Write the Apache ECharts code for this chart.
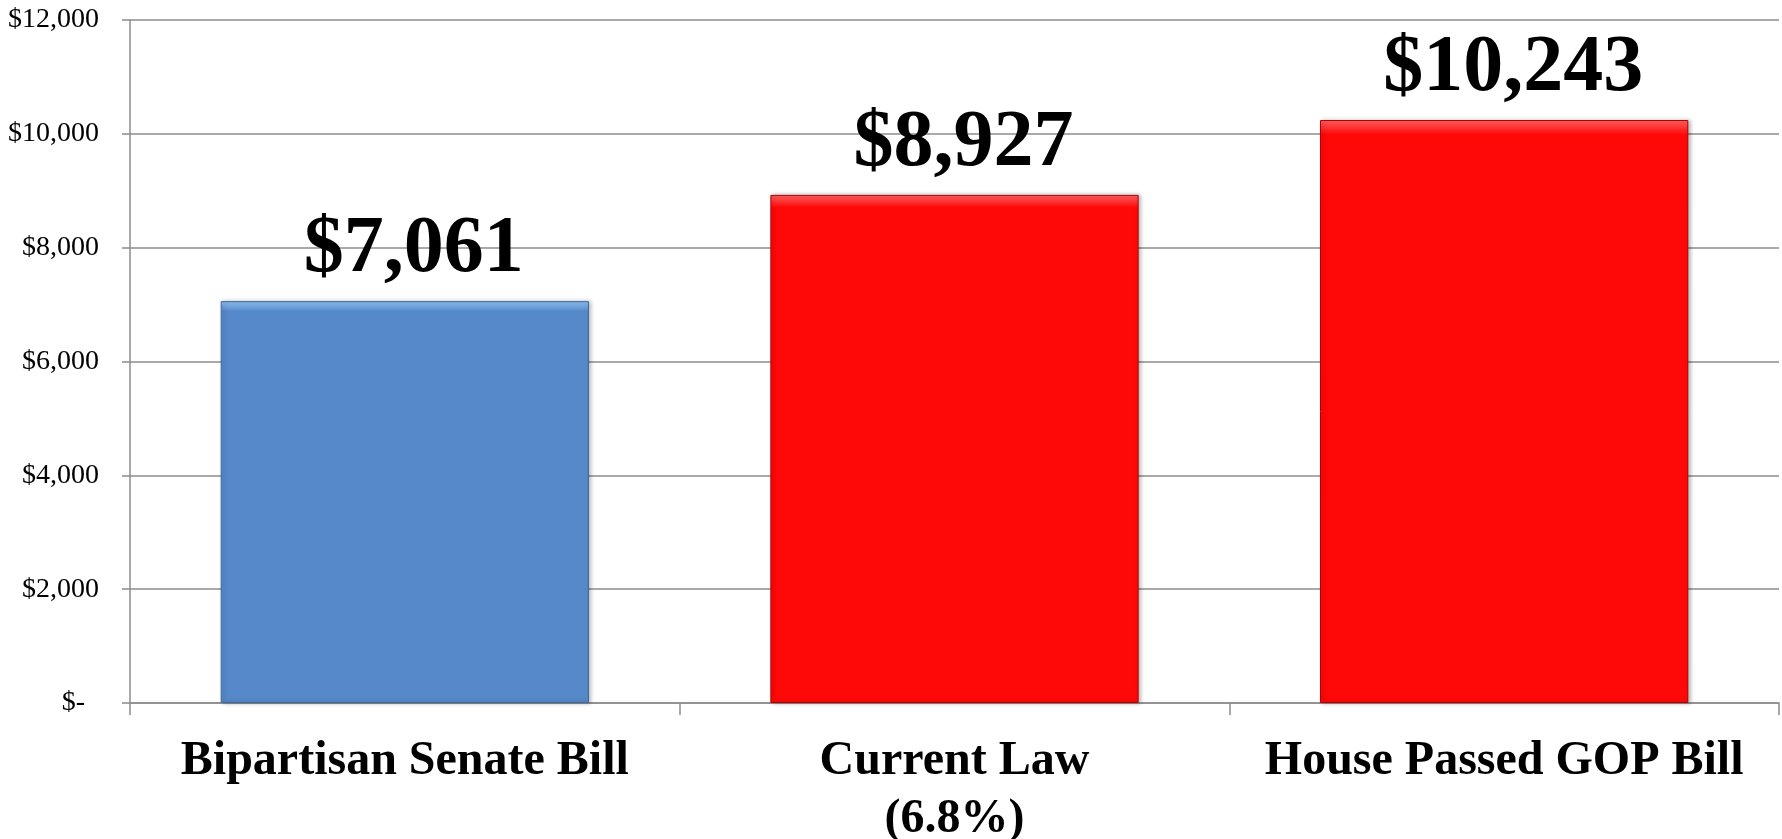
<!DOCTYPE html>
<html>
<head>
<meta charset="utf-8">
<script src="https://cdn.jsdelivr.net/npm/echarts@6/dist/echarts.min.js"></script>
<style>
  html, body { margin: 0; padding: 0; background: #fff; }
  #chart { width: 1782px; height: 839px; }
</style>
</head>
<body>
<div id="chart"></div>
<script>
const categories = ['Bipartisan Senate Bill', 'Current Law\n(6.8%)', 'House Passed GOP Bill']
const values = [7061, 8927, 10243]
const barColors = ['#5689c9', '#ff0808', '#ff0808']
const borderColors = ['#3d6aa3', '#b30000', '#b30000']

const chart = echarts.init(document.getElementById('chart'))

const fmt = v => '$' + v.toLocaleString('en-US')

const option = {
  animation: false,
  grid: { left: 130, right: 3, top: 20, bottom: 136, containLabel: false, outerBoundsMode: 'none' },
  xAxis: {
    type: 'category',
    data: categories,
    axisLine: { lineStyle: { color: '#8c8c8c', width: 1.5 } },
    axisTick: { show: true, interval: 0, length: 12, lineStyle: { color: '#8c8c8c', width: 1.5 } },
    axisLabel: {
      interval: 0,
      margin: 30,
      fontFamily: 'Liberation Serif',
      fontWeight: 'bold',
      fontSize: 48,
      lineHeight: 58,
      color: '#000'
    }
  },
  yAxis: {
    type: 'value',
    min: 0,
    max: 12000,
    interval: 2000,
    axisLine: { show: true, lineStyle: { color: '#8c8c8c', width: 1.5 } },
    axisTick: { show: true, length: 8, lineStyle: { color: '#8c8c8c', width: 1.5 } },
    splitLine: { lineStyle: { color: '#8c8c8c', width: 1.5 } },
    axisLabel: {
      margin: 31,
      fontFamily: 'Liberation Serif',
      fontSize: 28,
      color: '#000',
      formatter: v => v === 0 ? '{z|$-}' : fmt(v),
      rich: { z: { fontFamily: 'Liberation Serif', fontSize: 28, color: '#000', padding: [0, 14, 0, 0] } }
    }
  },
  series: [{
    type: 'bar',
    barCategoryGap: '33%',
    data: values.map((v, i) => ({
      value: v,
      itemStyle: {
        color: {
          type: 'linear', x: 0, y: 0, x2: 0, y2: 1,
          colorStops: [
            { offset: 0, color: i === 0 ? '#8fc0f2' : '#ff6060' },
            { offset: 0.025, color: barColors[i] },
            { offset: 1, color: barColors[i] }
          ]
        },
        borderColor: borderColors[i],
        borderWidth: 1,
        shadowColor: 'rgba(0,0,0,0.3)',
        shadowBlur: 4,
        shadowOffsetX: 2
      }
    })),
    label: {
      show: true,
      position: 'top',
      distance: 11,
      offset: [9, 0],
      fontFamily: 'Liberation Serif',
      fontWeight: 'bold',
      fontSize: 80,
      color: '#000',
      formatter: p => fmt(p.value)
    }
  }]
}

chart.setOption(option)
</script>
</body>
</html>
